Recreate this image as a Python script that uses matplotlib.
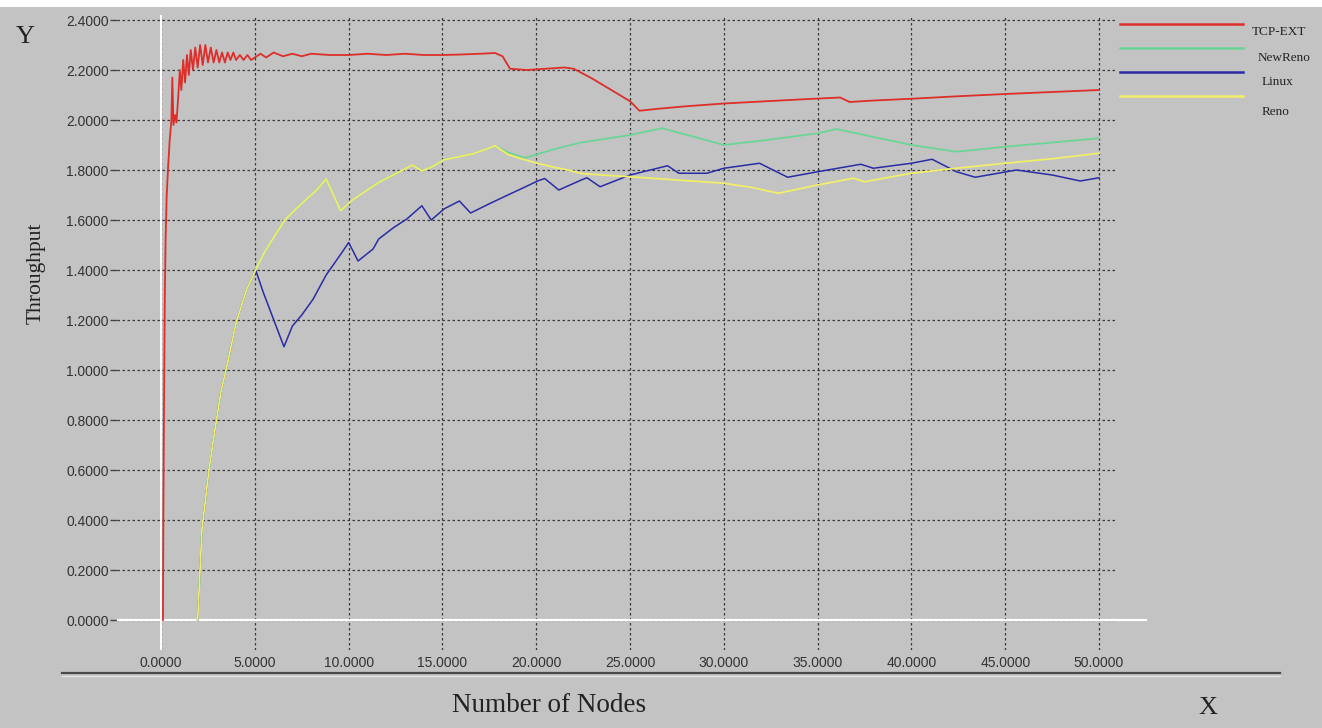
import numpy as np
import matplotlib
matplotlib.use('Agg')
from matplotlib import pyplot as plt
from matplotlib.lines import Line2D


# TCP-EXT (red)
tcp_x = [0.10, 0.12, 0.16, 0.20, 0.24, 0.30, 0.38, 0.46, 0.55, 0.60, 0.66, 0.75, 0.82, 0.92,
         1.00, 1.08, 1.18, 1.28, 1.38, 1.48, 1.58, 1.70, 1.82, 1.95, 2.08, 2.22, 2.36, 2.50,
         2.65, 2.80, 2.95, 3.10, 3.25, 3.40, 3.55, 3.70, 3.85, 4.00, 4.20, 4.40, 4.60, 4.80,
         5.00, 5.30, 5.60, 6.00, 6.50, 7.00, 7.50, 8.00, 9.00, 10.0, 11.0, 12.0, 13.0, 14.0,
         15.0, 16.0, 17.0, 17.8, 18.2, 18.6, 19.5, 20.5, 21.5, 22.0, 23.0, 24.0, 25.0, 25.5,
         26.5, 28.0, 30.0, 32.0, 34.0, 36.2, 36.7, 38.0, 40.0, 42.5, 45.0, 47.5, 50.0]
tcp_y = [0.00, 0.40, 0.90, 1.30, 1.52, 1.70, 1.82, 1.92, 2.00, 2.17, 1.98, 2.02, 1.99, 2.10,
         2.20, 2.12, 2.24, 2.15, 2.26, 2.18, 2.28, 2.20, 2.29, 2.21, 2.30, 2.22, 2.30, 2.23,
         2.29, 2.23, 2.28, 2.23, 2.27, 2.23, 2.27, 2.24, 2.27, 2.24, 2.26, 2.24, 2.26, 2.24,
         2.25, 2.265, 2.25, 2.27, 2.255, 2.265, 2.255, 2.265, 2.26, 2.26, 2.265, 2.26, 2.265, 2.26,
         2.26, 2.262, 2.265, 2.268, 2.255, 2.205, 2.20, 2.205, 2.21, 2.205, 2.165, 2.12, 2.075, 2.037,
         2.045, 2.055, 2.066, 2.074, 2.082, 2.09, 2.072, 2.078, 2.085, 2.095, 2.104, 2.112, 2.12]

# Reno (yellow)
reno_x = [1.95, 2.18, 2.55, 2.82, 3.18, 3.55, 4.00, 4.55, 5.04, 5.50, 6.00, 6.60, 7.20, 7.70,
          8.30, 8.80, 9.57, 10.2, 10.9, 11.6, 12.5, 13.4, 13.9, 14.5, 15.05, 16.0, 16.6, 17.2,
          17.8, 18.5, 19.2, 20.0, 21.0, 21.7, 22.4, 23.5, 25.0, 27.5, 30.0, 31.5, 32.9, 35.0,
          36.9, 37.5, 40.0, 42.4, 45.0, 47.5, 50.0]
reno_y = [0.00, 0.363, 0.60, 0.736, 0.909, 1.03, 1.19, 1.32, 1.40, 1.47, 1.53, 1.60, 1.645, 1.68,
          1.72, 1.764, 1.637, 1.68, 1.715, 1.75, 1.785, 1.82, 1.796, 1.815, 1.84, 1.855, 1.864, 1.88,
          1.897, 1.862, 1.845, 1.828, 1.81, 1.80, 1.786, 1.78, 1.773, 1.76, 1.747, 1.73, 1.707, 1.74,
          1.767, 1.753, 1.787, 1.807, 1.827, 1.845, 1.867]

# NewReno (green) - follows Reno until ~17.8
newreno_x = reno_x[:29] + [18.5, 19.4, 20.3, 21.3, 22.4, 23.7, 25.0, 26.7, 28.3, 30.0, 32.5,
                           35.0, 36.0, 38.0, 40.0, 42.4, 45.0, 47.5, 50.0]
newreno_y = reno_y[:29] + [1.87, 1.848, 1.869, 1.89, 1.91, 1.925, 1.94, 1.967, 1.935, 1.90, 1.922,
                           1.947, 1.964, 1.932, 1.90, 1.873, 1.893, 1.91, 1.927]

# Linux (blue) - shares the first rise
linux_x = reno_x[:9] + [5.45, 6.55, 7.0, 7.5, 8.1, 8.8, 9.64, 10.0, 10.5, 11.3, 11.6, 12.4, 13.1,
                        13.9, 14.4, 15.1, 15.9, 16.5, 17.5, 18.4, 19.2, 20.1, 20.45, 21.2, 22.4,
                        22.7, 23.4, 25.0, 27.0, 27.6, 29.1, 30.0, 31.9, 33.4, 35.0, 37.3, 37.97,
                        40.0, 41.1, 42.4, 43.4, 45.6, 47.5, 49.0, 50.0]
linux_y = reno_y[:9] + [1.31, 1.093, 1.176, 1.22, 1.283, 1.38, 1.47, 1.51, 1.436, 1.484, 1.524, 1.57,
                        1.604, 1.657, 1.60, 1.645, 1.676, 1.628, 1.665, 1.697, 1.725, 1.757, 1.766,
                        1.72, 1.76, 1.769, 1.733, 1.78, 1.817, 1.787, 1.787, 1.807, 1.827, 1.771,
                        1.793, 1.823, 1.807, 1.827, 1.843, 1.793, 1.771, 1.80, 1.78, 1.756, 1.769]

series_names = ['TCP-EXT', 'NewReno', 'Linux', 'Reno']
series_colors = ['#dd2e2a', '#6cd596', '#2b2ba6', '#f2ee6a']

x_ticks = np.arange(0, 51, 5)
y_ticks = np.arange(0, 2.41, 0.2)

BG = '#c3c3c3'
W, H = 1322, 728

fig = plt.figure(figsize=(W / 100, H / 100), dpi=100, facecolor=BG)
ax = fig.add_axes([117 / W, 1 - 650 / H, (1115 - 117) / W, (650 - 15) / H])
ax.set_facecolor(BG)
ax.set_xlim(-2.35, 50.85)
ax.set_ylim(-0.12, 2.42)

for s in ax.spines.values():
    s.set_visible(False)

ax.set_xticks(x_ticks)
ax.set_yticks(y_ticks)
ax.set_xticklabels(['%.4f' % v for v in x_ticks])
ax.set_yticklabels(['%.4f' % v for v in y_ticks])
for lab in ax.get_xticklabels() + ax.get_yticklabels():
    lab.set_fontfamily(['Liberation Sans', 'DejaVu Sans'])
    lab.set_fontsize(10)
    lab.set_color('#333333')
ax.tick_params(axis='x', length=0, pad=4)
ax.tick_params(axis='y', length=5, width=1, color='#444444', pad=1)

ax.grid(True, color='#3a3a3a', linestyle=(0, (2, 2)), linewidth=0.9)
ax.set_axisbelow(True)

# white zero axes
ax.axvline(0, color='white', lw=1.4, zorder=1.5)
ax.plot([-2.3, 52.5], [0, 0], color='white', lw=1.6, zorder=1.5, clip_on=False)

ax.plot(newreno_x, newreno_y, color=series_colors[1], lw=1.3, zorder=3)
ax.plot(linux_x, linux_y, color=series_colors[2], lw=1.1, zorder=3.5)
ax.plot(reno_x, reno_y, color=series_colors[3], lw=1.3, zorder=4)
ax.plot(tcp_x, tcp_y, color=series_colors[0], lw=1.3, zorder=5)

# legend drawn by hand at top right
leg_y = [24, 48, 72, 96]
lab_pos = [(1252, 32), (1258, 58), (1262, 82), (1262, 112)]
for name, col, ly, (tx, ty) in zip(series_names, series_colors, leg_y, lab_pos):
    fig.add_artist(Line2D([1120 / W, 1243 / W], [1 - ly / H, 1 - ly / H], color=col, lw=1.8))
    fig.text(tx / W, 1 - ty / H, name, family='Liberation Serif', fontsize=9.5,
             color='#222222', va='center', ha='left')

# separator line under the x tick labels
fig.add_artist(Line2D([62 / W, 1280 / W], [1 - 673 / H, 1 - 673 / H], color='#4a4a4a', lw=1.6))
fig.add_artist(Line2D([62 / W, 1280 / W], [1 - 676 / H, 1 - 676 / H], color='#e4e4e4', lw=1.0))

# top white strip
fig.add_artist(plt.Rectangle((0, 1 - 7 / H), 1, 7 / H, transform=fig.transFigure,
                             facecolor='white', edgecolor='none'))

serif = 'Liberation Serif'
fig.text(25 / W, 1 - 37 / H, 'Y', family=serif, fontsize=19, ha='center', va='center', color='#222222')
fig.text(1208 / W, 1 - 708 / H, 'X', family=serif, fontsize=19, ha='center', va='center', color='#222222')
fig.text(36 / W, 1 - 273 / H, 'Throughput', family=serif, fontsize=15.5, rotation=90,
         ha='center', va='center', color='#222222')
fig.text(549 / W, 1 - 705 / H, 'Number of Nodes', family=serif, fontsize=19.5,
         ha='center', va='center', color='#222222')

fig.savefig('out.png', dpi=100, facecolor=BG)
